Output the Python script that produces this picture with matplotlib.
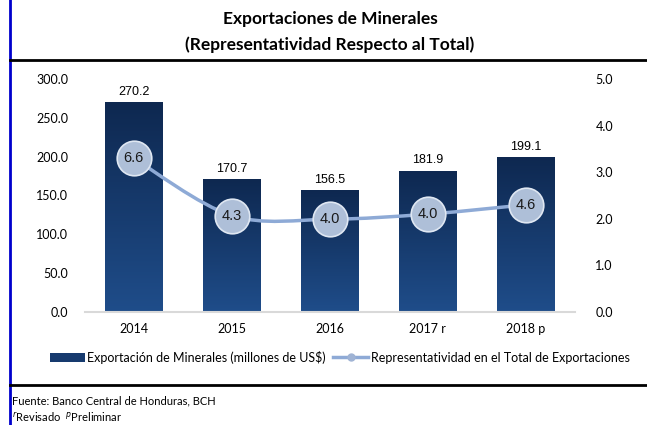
import numpy as np
import matplotlib.pyplot as plt
from matplotlib.path import Path
from matplotlib.patches import PathPatch, Patch
from matplotlib.lines import Line2D

years = ['2014', '2015', '2016', '2017 r', '2018 p']
exports = [270.2, 170.7, 156.5, 181.9, 199.1]
# share labels and where the markers sit on the right axis
share_labels = [6.6, 4.3, 4.0, 4.0, 4.6]
share_pos = [3.3, 2.07, 1.99, 2.1, 2.3]

plt.rcParams['font.family'] = ['Lato', 'DejaVu Sans']

fig = plt.figure(figsize=(6.47, 4.25), dpi=100)
ax = fig.add_axes([0.131, 0.266, 0.757, 0.548])
ax2 = ax.twinx()

x = np.arange(len(years))
w = 0.59
grad = np.linspace(0, 1, 256).reshape(-1, 1)
cmap = plt.matplotlib.colors.LinearSegmentedColormap.from_list('b', ['#1f4d8a', '#0e2850'])
bars = ax.bar(x, exports, width=w, color='none', edgecolor='none')
for b in bars:
    x0, y0 = b.get_x(), b.get_y()
    im = ax.imshow(grad, cmap=cmap, aspect='auto', origin='lower',
                   extent=[x0, x0 + b.get_width(), y0, y0 + b.get_height()], zorder=2)
    im.set_clip_path(b)
for xi, v in zip(x, exports):
    ax.text(xi, v + 6, f'{v:.1f}', ha='center', va='bottom', fontsize=9,
            family='Liberation Sans')

ax.set_xlim(-0.5, len(years) - 0.5)
ax.set_ylim(0, 300)
ax.set_yticks(np.arange(0, 301, 50))
ax.set_yticklabels([f'{t:.1f}' for t in np.arange(0, 301, 50)], fontsize=9)
ax.set_xticks(x)
ax.set_xticklabels(years, fontsize=9)
ax.tick_params(length=0, pad=12)
ax.tick_params(axis='x', pad=8)
for s in ['top', 'right', 'left']:
    ax.spines[s].set_visible(False)
ax.spines['bottom'].set_color('#d9d9d9')
ax.spines['bottom'].set_linewidth(1.5)

ax2.set_ylim(0, 5)
ax2.set_yticks(np.arange(0, 5.1, 1))
ax2.set_yticklabels([f'{t:.1f}' for t in np.arange(0, 5.1, 1)], fontsize=9)
ax2.tick_params(length=0, pad=15)
for s in ax2.spines.values():
    s.set_visible(False)

# smoothed line (Catmull-Rom as cubic Bezier)
px = np.array(x, dtype=float)
py = np.array(share_pos)
verts = [(px[0], py[0])]
codes = [Path.MOVETO]
for i in range(len(px) - 1):
    p0 = (px[max(i - 1, 0)], py[max(i - 1, 0)])
    p1 = (px[i], py[i])
    p2 = (px[i + 1], py[i + 1])
    p3 = (px[min(i + 2, len(px) - 1)], py[min(i + 2, len(px) - 1)])
    c1 = (p1[0] + (p2[0] - p0[0]) / 6, p1[1] + (p2[1] - p0[1]) / 6)
    c2 = (p2[0] - (p3[0] - p1[0]) / 6, p2[1] - (p3[1] - p1[1]) / 6)
    verts += [c1, c2, p2]
    codes += [Path.CURVE4] * 3
ax2.add_patch(PathPatch(Path(verts, codes), fill=False, edgecolor='#8eaad6', lw=2.5, zorder=3))
ax2.scatter(px, py, s=620, color='#aebfd8', edgecolor='#dfe7f2', linewidth=1.2, zorder=4)
for xi, yi, lab in zip(px, py, share_labels):
    ax2.text(xi, yi, f'{lab:.1f}', ha='center', va='center', fontsize=10.5,
             family='Liberation Sans', color='#1a1a1a', zorder=5)

fig.text(0.51, 0.955, 'Exportaciones de Minerales', ha='center', va='center',
         fontsize=12.5, fontweight='bold')
fig.text(0.51, 0.895, '(Representatividad Respecto al Total)', ha='center', va='center',
         fontsize=12.5, fontweight='bold')

handles = [Patch(facecolor='#163a6e', edgecolor='none'),
           Line2D([], [], color='#8eaad6', lw=2.5, marker='o', markersize=5,
                  markerfacecolor='#9fb3d4', markeredgecolor='#9fb3d4')]
fig.legend(handles, ['Exportación de Minerales (millones de US$)',
                     'Representatividad en el Total de Exportaciones'],
           loc='center', bbox_to_anchor=(0.525, 0.16), ncol=2, frameon=False,
           fontsize=9, handlelength=2.8, handletextpad=0.2, columnspacing=0.6)

fig.add_artist(Line2D([0.016, 0.016], [0, 1], color='#0000cc', lw=2))
fig.add_artist(Line2D([0.016, 1], [0.859, 0.859], color='black', lw=2))
fig.add_artist(Line2D([0.016, 1], [0.094, 0.094], color='black', lw=2))
fig.text(0.018, 0.057, 'Fuente: Banco Central de Honduras, BCH', fontsize=8, va='center')
fig.text(0.018, 0.018, '$^{r}$Revisado  $^{p}$Preliminar', fontsize=8, va='center')

fig.savefig('out.png', dpi=100)
